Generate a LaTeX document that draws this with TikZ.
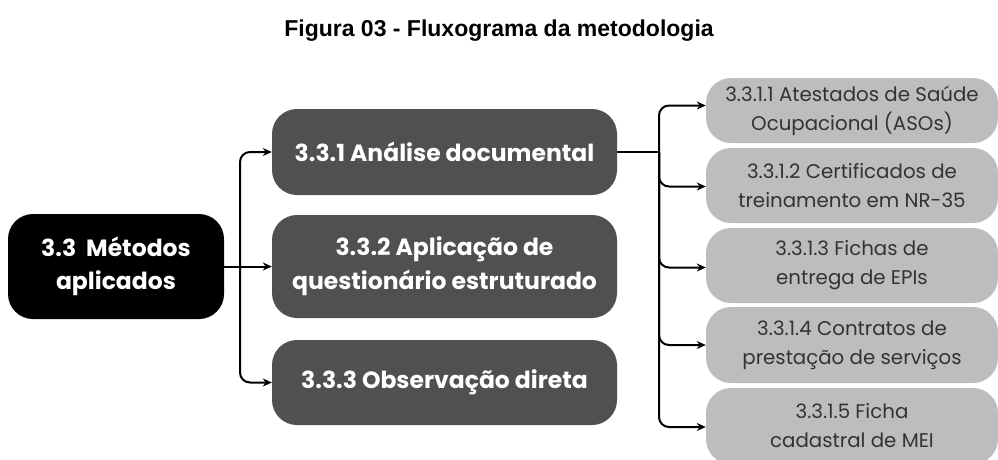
\documentclass[tikz,border=0pt]{standalone}
\usepackage{fontspec}
\setmainfont{Poppins}
\newfontfamily\titlefont{Liberation Sans}
\usetikzlibrary{arrows.meta}
\definecolor{darkbox}{HTML}{505050}
\definecolor{lightbox}{HTML}{BDBDBD}
\definecolor{lighttext}{HTML}{333333}
\tikzset{
  rootbox/.style={fill=black, text=white, rounded corners=25pt, minimum width=216pt, minimum height=105pt, align=center, font=\fontsize{23.5}{33}\selectfont\bfseries, inner sep=0pt},
  midbox/.style={fill=darkbox, text=white, rounded corners=25pt, minimum width=345pt, align=center, font=\fontsize{23.5}{34}\selectfont\bfseries, inner sep=0pt},
  leafbox/.style={fill=lightbox, text=lighttext, rounded corners=25pt, minimum width=292pt, align=center, font=\fontsize{19.8}{29}\selectfont, inner sep=0pt},
  link/.style={draw=black, line width=2pt},
  conn/.style={link, rounded corners=10pt, -{Stealth[length=9pt,width=8pt]}}
}
\begin{document}
\begin{tikzpicture}[x=1pt,y=-1pt]
\useasboundingbox (0,0) rectangle (998,459);
\node[font=\titlefont\fontsize{23}{26}\selectfont\bfseries] (title) at (499,31) {Figura 03 - Fluxograma da metodologia};
\node[rootbox] (root) at (116,266.5) {3.3\ \ Métodos\\aplicados};
\node[midbox, minimum height=86pt] (m1) at (444.5,152) {3.3.1 Análise documental};
\node[midbox, minimum height=103pt] (m2) at (444.5,266.5) {3.3.2 Aplicação de\\questionário estruturado};
\node[midbox, minimum height=85pt] (m3) at (444.5,382.5) {3.3.3 Observação direta};
\node[leafbox, minimum height=65pt] (l1) at (852,110.5) {3.3.1.1 Atestados de Saúde\\Ocupacional (ASOs)};
\node[leafbox, minimum height=75pt] (l2) at (852,185.5) {3.3.1.2 Certificados de\\treinamento em NR-35};
\node[leafbox, minimum height=75pt] (l3) at (852,265.5) {3.3.1.3 Fichas de\\entrega de EPIs};
\node[leafbox, minimum height=76pt] (l4) at (852,345) {3.3.1.4 Contratos de\\prestação de serviços};
\node[leafbox, minimum height=76pt] (l5) at (852,426) {3.3.1.5 Ficha\\cadastral de MEI};
\coordinate (j1) at (240,266.5);
\coordinate (j2) at (659,152);
\draw[link] (root.east) -- (j1);
\draw[conn] (j1) |- (m1.west);
\draw[conn] (j1) -- (m2.west);
\draw[conn] (j1) |- (m3.west);
\draw[link] (m1.east) -- (j2);
\draw[conn] (j2) |- ([yshift=5pt]l1.west);
\draw[conn] (j2) |- ([yshift=-1pt]l2.west);
\draw[conn] (j2) |- ([yshift=-2pt]l3.west);
\draw[conn] (j2) |- (l4.west);
\draw[conn] (j2) |- ([yshift=-1pt]l5.west);
\end{tikzpicture}
\end{document}
